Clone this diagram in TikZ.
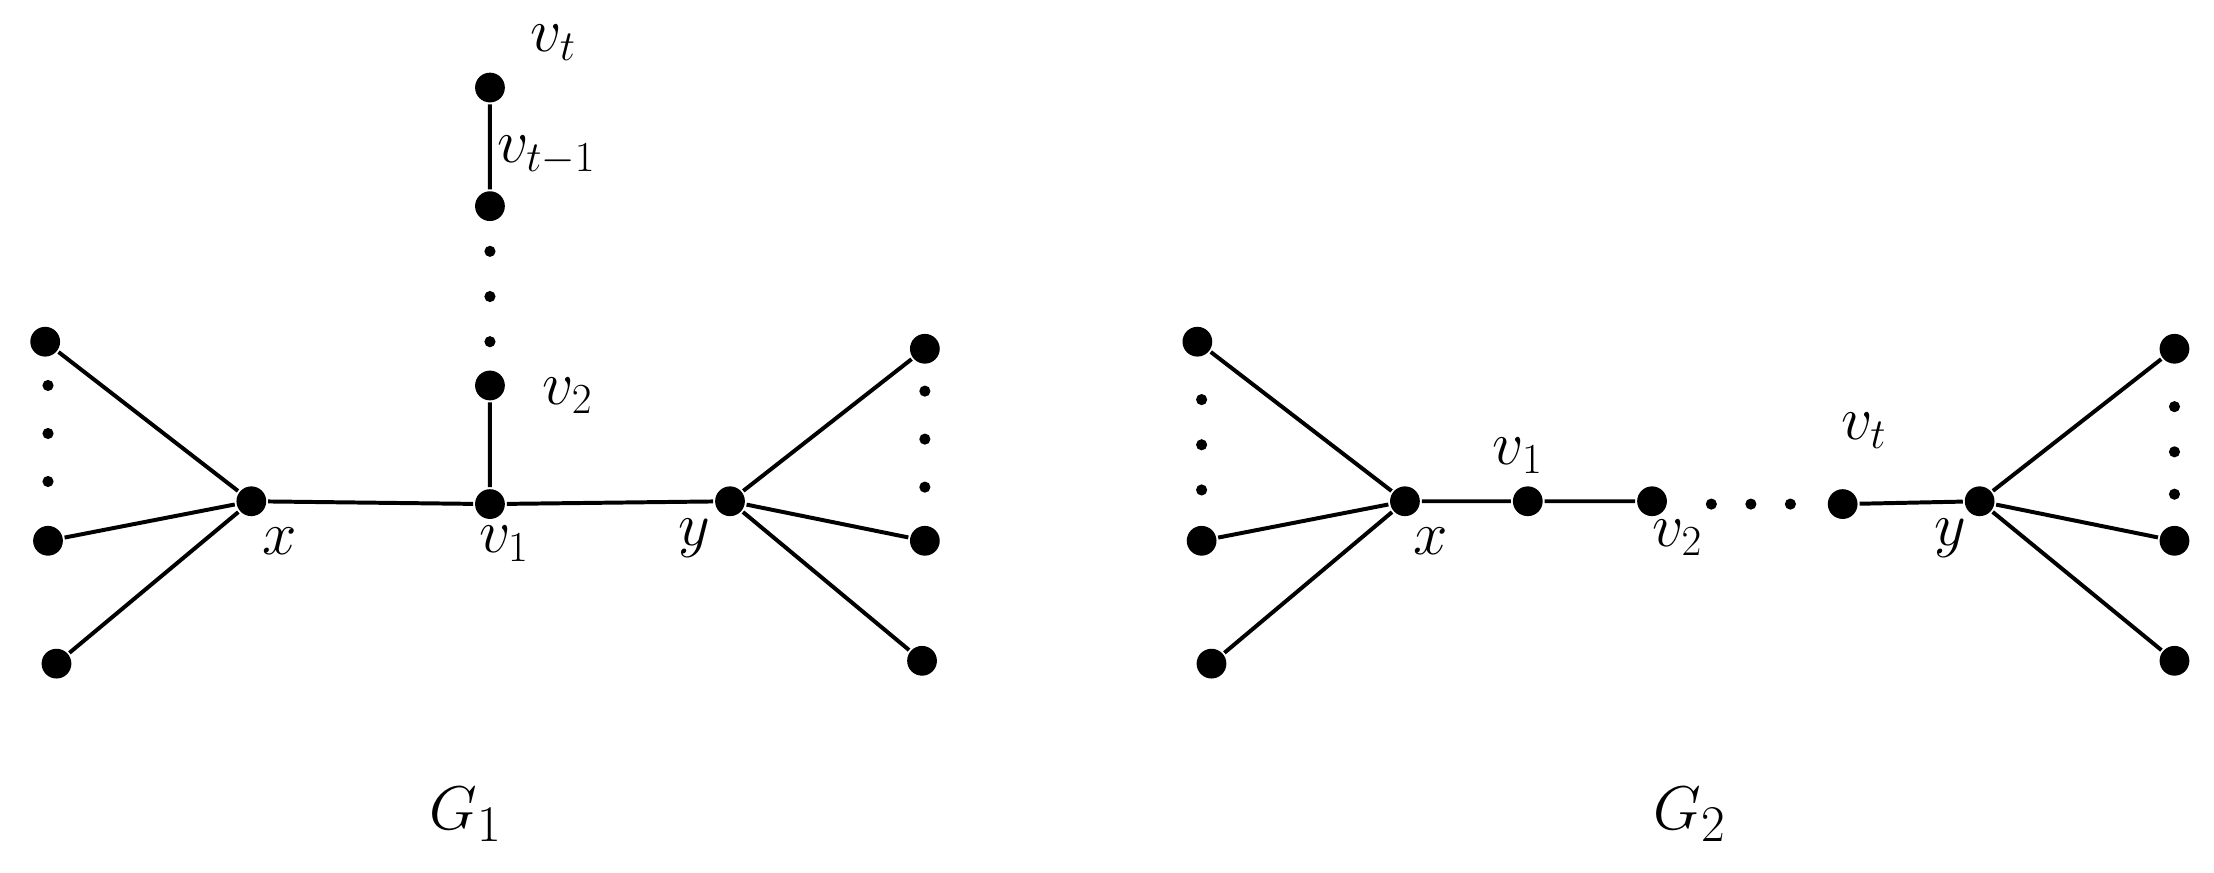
\documentclass[tikz,border=0pt]{standalone}
\begin{document}
\begin{tikzpicture}[x=0.02cm,y=-0.02cm,
  vtx/.style={circle,fill=black,inner sep=0pt,minimum size=21\pgflinewidth},
  dotv/.style={circle,fill=black,inner sep=0pt,minimum size=4.5pt},
  lab/.style={font=\fontsize{24}{28}\selectfont},
  big/.style={font=\fontsize{30}{34}\selectfont},
  line width=1.6pt]
\tikzset{vtx/.style={circle,fill=black,inner sep=0pt,minimum size=12pt}}
\useasboundingbox (0,0) rectangle (1568,618);
% G1
\node[vtx] (a1) at (32,242) {};
\node[vtx] (a2) at (34,383) {};
\node[vtx] (a3) at (40,470) {};
\node[vtx] (x1) at (178,355) {};
\node[vtx] (w1) at (347,357) {};
\node[vtx] (y1) at (517,355) {};
\node[vtx] (b1) at (655,247) {};
\node[vtx] (b2) at (655,383) {};
\node[vtx] (b3) at (653,468) {};
\node[vtx] (w2) at (347,273) {};
\node[vtx] (wt1) at (347,146) {};
\node[vtx] (wt) at (347,62) {};
\foreach \yy [count=\i] in {273,307,341} \node[dotv] (ad\i) at (34,\yy) {};
\foreach \yy [count=\i] in {277,311,345} \node[dotv] (bd\i) at (655,\yy) {};
\foreach \yy [count=\i] in {178,210,242} \node[dotv] (wd\i) at (347,\yy) {};
\draw (a1)--(x1) (a2)--(x1) (a3)--(x1) (x1)--(w1)--(y1) (y1)--(b1) (y1)--(b2) (y1)--(b3) (w1)--(w2) (wt1)--(wt);
\node[lab] (lx1) at (198,383) {$x$};
\node[lab] (lw1) at (357,385) {$v_1$};
\node[lab] (ly1) at (492,381) {$y$};
\node[lab] (lw2) at (402,280) {$v_2$};
\node[lab] (lwt) at (392,30) {$v_t$};
\node[lab] (lwt1) at (387,110) {$v_{t-1}$};
\node[big] (g1) at (330,577) {$G_1$};
% G2
\node[vtx] (c1) at (848,242) {};
\node[vtx] (c2) at (851,383) {};
\node[vtx] (c3) at (858,470) {};
\node[vtx] (x2) at (995,355) {};
\node[vtx] (u1) at (1082,355) {};
\node[vtx] (u2) at (1170,355) {};
\node[vtx] (ut) at (1305,357) {};
\node[vtx] (y2) at (1402,355) {};
\node[vtx] (d1) at (1540,247) {};
\node[vtx] (d2) at (1540,383) {};
\node[vtx] (d3) at (1540,468) {};
\foreach \yy [count=\i] in {283,315,347} \node[dotv] (cd\i) at (851,\yy) {};
\foreach \yy [count=\i] in {288,320,350} \node[dotv] (dd\i) at (1540,\yy) {};
\foreach \xx [count=\i] in {1212,1240,1268} \node[dotv] (ud\i) at (\xx,357) {};
\draw (c1)--(x2) (c2)--(x2) (c3)--(x2) (x2)--(u1)--(u2) (ut)--(y2) (y2)--(d1) (y2)--(d2) (y2)--(d3);
\node[lab] (lx2) at (1013,383) {$x$};
\node[lab] (lu1) at (1075,323) {$v_1$};
\node[lab] (lu2) at (1188,381) {$v_2$};
\node[lab] (lut) at (1320,305) {$v_t$};
\node[lab] (ly2) at (1381,381) {$y$};
\node[big] (g2) at (1197,577) {$G_2$};
\end{tikzpicture}
\end{document}
